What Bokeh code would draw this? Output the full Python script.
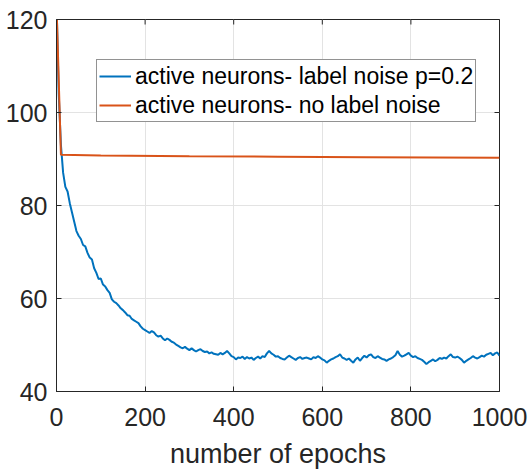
import math
from bokeh.plotting import figure
from bokeh.models import Legend, LegendItem, Range1d, FixedTicker
from bokeh.embed import file_html
from bokeh.resources import INLINE

# ---- data ----
x_ticks = [0, 200, 400, 600, 800, 1000]
y_ticks = [40, 60, 80, 100, 120]

noise_epochs = [1] + list(range(5, 1001, 5))
noise_active = [120,
    104, 93, 87, 84, 83, 80.5, 78.5, 76.5, 74.5, 73.5,
    72.8, 71.5, 71.2, 69.8, 68.8, 68.4, 66.5, 65.5, 64.2, 64.3,
    63.0, 62.6, 61.8, 61.2, 59.8, 59.3, 59.0, 58.5, 57.9, 57.5,
    57.0, 56.4, 56.3, 55.6, 55.3, 55.0, 54.7, 54.0, 53.5, 53.2,
    52.9, 52.6, 53.0, 52.7, 52.1, 51.8, 52.0, 51.4, 51.0, 51.4,
    51.1, 50.7, 50.5, 50.1, 49.8, 49.5, 49.3, 49.6, 49.2, 48.9,
    49.3, 48.9, 48.6, 48.9, 49.1, 48.7, 48.5, 48.6, 48.2, 48.4,
    48.1, 48.0, 47.9, 48.3, 48.0, 48.3, 48.7, 48.2, 47.6, 47.4,
    46.9, 47.3, 47.2, 47.5, 47.0, 47.4, 47.1, 47.3, 46.8, 47.2,
    47.5, 47.1, 47.6, 47.4, 48.2, 48.7, 48.2, 47.9, 47.5, 47.6,
    47.2, 47.0, 46.9, 47.3, 47.7, 47.4, 47.1, 46.8, 47.2, 47.4,
    47.0, 47.2, 47.3, 47.1, 46.9, 47.4, 47.2, 47.6, 47.3, 46.9,
    46.7, 46.2, 46.6, 46.9, 47.1, 47.4, 47.6, 48.0, 47.3, 47.1,
    46.8, 47.1, 46.6, 46.2, 46.9, 47.3, 46.6, 47.2, 47.7, 47.3,
    47.8, 48.0, 47.4, 47.2, 47.6, 47.3, 47.0, 46.9, 46.6, 46.9,
    47.1, 47.4, 47.8, 48.7, 47.9, 47.5, 47.7, 48.0, 48.3, 47.7,
    47.4, 47.6, 47.2, 47.0, 46.8, 46.4, 45.9, 46.3, 46.6, 46.9,
    46.5, 46.8, 47.2, 47.0, 47.3, 47.1, 47.6, 48.0, 47.4, 47.3,
    47.5, 47.2, 46.8, 46.2, 46.6, 46.9, 47.2, 47.6, 47.3, 47.1,
    47.4, 47.7, 47.5, 47.9, 48.1, 48.3, 47.8, 48.2, 48.4, 47.7,
]

clean_epochs = [1, 10, 100, 300, 500, 700, 1000]
clean_active = [120, 90.9, 90.75, 90.6, 90.5, 90.4, 90.25]

labels = ["active neurons- label noise p=0.2", "active neurons- no label noise"]
colors = ["#0072BD", "#D95319"]

FONT = "Liberation Sans"
TXT = "#262626"

p = figure(width=529, height=471, output_backend="svg", toolbar_location=None,
           x_range=Range1d(0, 1000), y_range=Range1d(40, 120),
           min_border_left=56, min_border_right=30, min_border_top=19, min_border_bottom=75)
p.background_fill_color = "white"
p.border_fill_color = "white"
p.outline_line_color = TXT
p.outline_line_width = 1

r1 = p.line(noise_epochs, noise_active, line_color=colors[0], line_width=2)
r2 = p.line(clean_epochs, clean_active, line_color=colors[1], line_width=2)

# inward ticks on the top and right edges (half of each dash is clipped by the frame)
p.scatter(x=x_ticks, y=[y_ticks[-1]] * len(x_ticks), marker="dash", size=10,
          angle=math.pi / 2, line_color=TXT, line_width=1)
p.scatter(x=[x_ticks[-1]] * len(y_ticks), y=y_ticks, marker="dash", size=10,
          line_color=TXT, line_width=1)

p.xaxis.ticker = FixedTicker(ticks=x_ticks)
p.yaxis.ticker = FixedTicker(ticks=y_ticks)
p.xgrid.ticker = FixedTicker(ticks=x_ticks)
p.ygrid.ticker = FixedTicker(ticks=y_ticks)
p.grid.grid_line_color = "#e3e3e3"
p.grid.grid_line_width = 1

for ax in (p.xaxis[0], p.yaxis[0]):
    ax.major_tick_in = 5
    ax.major_tick_out = 0
    ax.minor_tick_line_color = None
    ax.axis_line_color = TXT
    ax.major_tick_line_color = TXT
    ax.major_label_text_font = FONT
    ax.major_label_text_font_size = "25px"
    ax.major_label_text_color = TXT

p.xaxis.major_label_standoff = 16
p.yaxis.major_label_standoff = 9
p.xaxis.axis_label = "number of epochs"
p.xaxis.axis_label_text_font = FONT
p.xaxis.axis_label_text_font_size = "27px"
p.xaxis.axis_label_text_font_style = "normal"
p.xaxis.axis_label_text_color = TXT
p.xaxis.axis_label_standoff = 10

legend = Legend(items=[LegendItem(label=labels[0], renderers=[r1]),
                       LegendItem(label=labels[1], renderers=[r2])],
                location=(40, 269))
legend.label_text_font = FONT
legend.label_text_font_size = "23px"
legend.label_text_color = "black"
legend.glyph_width = 32
legend.glyph_height = 28
legend.label_height = 28
legend.label_standoff = 4
legend.spacing = 1
legend.padding = 2
legend.margin = 0
legend.border_line_color = TXT
legend.border_line_width = 1
legend.background_fill_color = "white"
legend.background_fill_alpha = 1
p.add_layout(legend)

open("out.html", "w").write(file_html(p, INLINE))
